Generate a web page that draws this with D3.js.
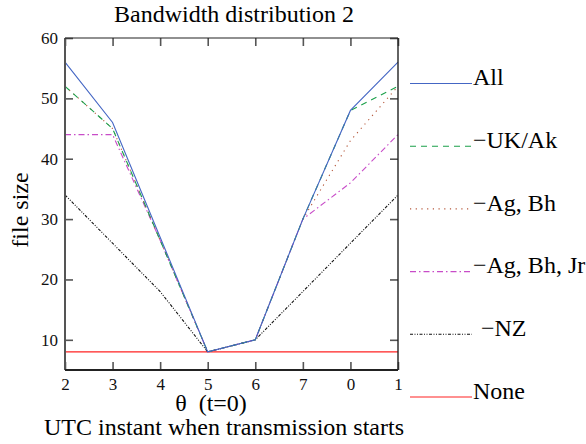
<!DOCTYPE html>
<html>
<head>
<meta charset="utf-8">
<script src="https://cdn.jsdelivr.net/npm/d3@7.9.0/dist/d3.min.js"></script>
<style>
  body { margin: 0; background: #fff; }
</style>
</head>
<body>
<svg id="chart" width="586" height="444"></svg>
<script>
// x categories (hour slots, read left to right)
const categories = ['2', '3', '4', '5', '6', '7', '0', '1'];

// file size per series
const allVals    = [56, 46, 27, 8, 10, 30, 48, 56];
const ukAkVals   = [52, 45, 26.5, 8, 10, 30, 48, 52];
const agBhVals   = [52, 45, 26.5, 8, 10, 30, 43, 52];
const agBhJrVals = [44, 44, 26.5, 8, 10, 30, 36, 44];
const nzVals     = [34, 26, 18, 8, 10, 18, 26, 34];
const noneVals   = [8, 8, 8, 8, 8, 8, 8, 8];

const seriesNames = ['All', '\u2212UK/Ak', '\u2212Ag, Bh', '\u2212Ag, Bh, Jr', '\u2212NZ', 'None'];
const yTicks = [10, 20, 30, 40, 50, 60];

const series = [
  { name: seriesNames[0], values: allVals,    color: '#4466c4', dash: null },
  { name: seriesNames[1], values: ukAkVals,   color: '#1ba04a', dash: '6,5' },
  { name: seriesNames[2], values: agBhVals,   color: '#b5573a', dash: '1.2,4.5' },
  { name: seriesNames[3], values: agBhJrVals, color: '#c84cc8', dash: '6,3,1.5,3' },
  { name: seriesNames[4], values: nzVals,     color: '#111111', dash: '3,1.5,1,1.5,1,1.5' },
  { name: seriesNames[5], values: noneVals,   color: '#ff2222', dash: null }
];

const serif = '"Liberation Serif"';
const svg = d3.select('#chart');
const mLeft = 65, mRight = 398, mTop = 38, mBottom = 370;

const x = d3.scalePoint().domain(categories).range([mLeft, mRight]);
const y = d3.scaleLinear().domain([5, 60]).range([mBottom, mTop]);

// title
svg.append('text')
  .attr('x', 234).attr('y', 22)
  .attr('text-anchor', 'middle')
  .attr('font-family', serif)
  .attr('font-size', 24)
  .text('Bandwidth distribution 2');

// data lines (drawn first so frame sits on top)
const line = d3.line()
  .x((d, i) => x(categories[i]))
  .y(d => y(d));

series.slice().reverse().forEach(s => {
  svg.append('path')
    .datum(s.values)
    .attr('d', line)
    .attr('fill', 'none')
    .attr('stroke', s.color)
    .attr('stroke-width', 1.1)
    .attr('stroke-dasharray', s.dash);
});

// axes: ticks inside on all four sides
const tickCol = '#555';
svg.append('g')
  .attr('transform', `translate(${mLeft},0)`)
  .call(d3.axisLeft(y).tickValues(yTicks).tickSize(-8).tickPadding(7).tickFormat(d3.format('d')))
  .call(g => g.select('.domain').remove())
  .call(g => g.selectAll('line').attr('stroke', tickCol).attr('stroke-width', 1.6))
  .call(g => g.selectAll('text').attr('font-size', 17).attr('fill', '#111').attr('font-family', serif));

svg.append('g')
  .attr('transform', `translate(${mRight},0)`)
  .call(d3.axisRight(y).tickValues(yTicks).tickSize(-8).tickFormat(''))
  .call(g => g.select('.domain').remove())
  .call(g => g.selectAll('line').attr('stroke', tickCol).attr('stroke-width', 1.6));

svg.append('g')
  .attr('transform', `translate(0,${mBottom})`)
  .call(d3.axisBottom(x).tickSize(-8).tickPadding(8))
  .call(g => g.select('.domain').remove())
  .call(g => g.selectAll('line').attr('stroke', tickCol).attr('stroke-width', 1.6))
  .call(g => g.selectAll('text').attr('font-size', 17).attr('fill', '#111').attr('font-family', serif));

svg.append('g')
  .attr('transform', `translate(0,${mTop})`)
  .call(d3.axisTop(x).tickSize(-8).tickFormat(''))
  .call(g => g.select('.domain').remove())
  .call(g => g.selectAll('line').attr('stroke', tickCol).attr('stroke-width', 1.6));

// frame
svg.append('line').attr('x1', mLeft).attr('x2', mLeft).attr('y1', mTop).attr('y2', mBottom)
  .attr('stroke', '#555').attr('stroke-width', 2);
svg.append('line').attr('x1', mLeft).attr('x2', mRight).attr('y1', mBottom).attr('y2', mBottom)
  .attr('stroke', '#222').attr('stroke-width', 2);
svg.append('line').attr('x1', mLeft).attr('x2', mRight).attr('y1', mTop).attr('y2', mTop)
  .attr('stroke', '#222').attr('stroke-width', 1.2);
svg.append('line').attr('x1', mRight).attr('x2', mRight).attr('y1', mTop).attr('y2', mBottom)
  .attr('stroke', '#222').attr('stroke-width', 1.4);

// axis titles
svg.append('text')
  .attr('transform', 'translate(28,210) rotate(-90)')
  .attr('text-anchor', 'middle')
  .attr('font-family', serif)
  .attr('font-size', 24)
  .text('file size');

svg.append('text')
  .attr('x', 211).attr('y', 411)
  .attr('text-anchor', 'middle')
  .attr('font-family', serif)
  .attr('font-size', 24)
  .style('white-space', 'pre')
  .text('\u03b8  (t=0)');

svg.append('text')
  .attr('x', 224).attr('y', 435)
  .attr('text-anchor', 'middle')
  .attr('font-family', serif)
  .attr('font-size', 24)
  .text('UTC instant when transmission starts');

// legend
const legendY = d3.scalePoint().domain(seriesNames).range([83.5, 397]);
series.forEach(s => {
  const ly = legendY(s.name);
  svg.append('line')
    .attr('x1', 410).attr('x2', 472)
    .attr('y1', ly).attr('y2', ly)
    .attr('stroke', s.color)
    .attr('stroke-width', 1.1)
    .attr('stroke-dasharray', s.dash);
  svg.append('text')
    .attr('x', s.name === '\u2212NZ' ? 481 : 473)
    .attr('y', ly + 1.8)
    .attr('font-family', serif)
    .attr('font-size', 24)
    .text(s.name);
});
</script>
</body>
</html>
